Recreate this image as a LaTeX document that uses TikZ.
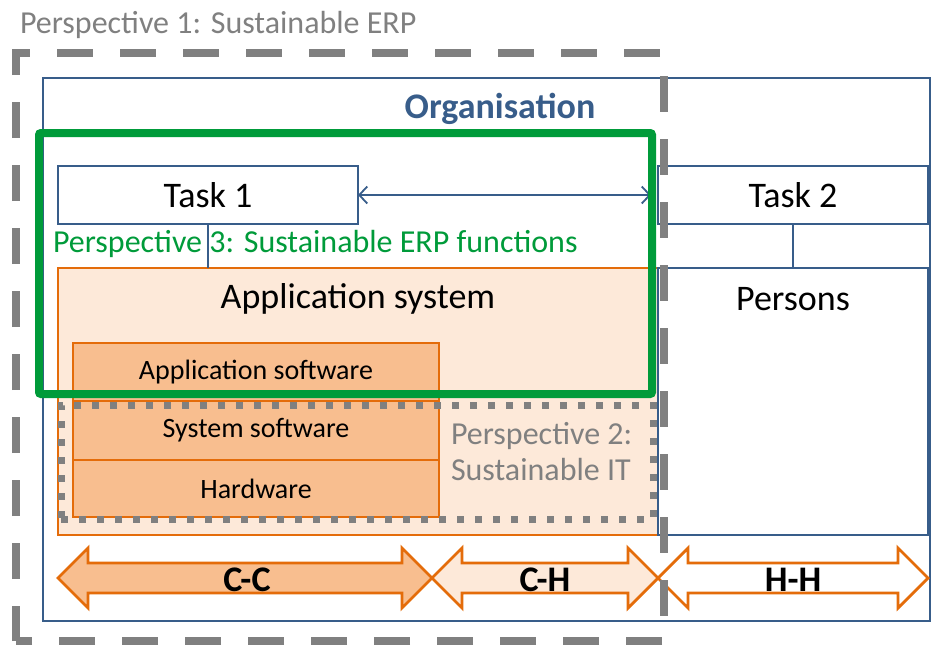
\documentclass[tikz,border=0pt]{standalone}
\usepackage{fontspec}
\setmainfont{Carlito}
\usetikzlibrary{arrows.meta}
\definecolor{orgblue}{RGB}{56,93,138}
\definecolor{erporange}{RGB}{228,108,10}
\definecolor{paleorange}{RGB}{253,233,217}
\definecolor{midorange}{RGB}{248,190,143}
\definecolor{pgray}{RGB}{128,128,128}
\definecolor{pgreen}{RGB}{0,155,58}
\newcommand{\fsz}[1]{\fontsize{#1}{#1}\selectfont}
\begin{document}
\begin{tikzpicture}[x=1pt,y=-1pt,
  box/.style={draw=orgblue,line width=2.8pt,fill=white,inner sep=0pt,outer sep=0pt},
  layer/.style={draw=erporange,line width=2.8pt,fill=midorange,inner sep=0pt,outer sep=0pt,font=\fsz{28}},
  txt/.style={inner sep=0pt,outer sep=0pt},
  link/.style={draw=orgblue,line width=1.8pt},
  blockarrow/.style={draw=erporange,line width=2.8pt,line join=miter},
  flowlabel/.style={inner sep=0pt,outer sep=0pt,font=\fsz{36}\bfseries},
]
\useasboundingbox (0,0) rectangle (931,646);

% organisation frame
\node[box, minimum width=887pt, minimum height=543pt] (org) at (486.5,349.5) {};
\node[txt, anchor=base, text=orgblue, font=\fsz{36}\bfseries] (orgtitle) at (500,118) {Organisation};

% tasks
\node[box, minimum width=300pt, minimum height=58pt, font=\fsz{36}] (t1) at (208,195) {Task 1};
\node[box, minimum width=270pt, minimum height=58pt, font=\fsz{36}] (t2) at (793,195) {Task 2};

% application system and persons
\node[draw=erporange, line width=2.8pt, fill=paleorange, inner sep=0pt, outer sep=0pt,
      minimum width=600pt, minimum height=267pt] (appsys) at (358,401.5) {};
\node[txt, font=\fsz{36}] (appsyslabel) at (358,299) {Application system};
\node[box, minimum width=270pt, minimum height=267pt] (persons) at (793,401.5) {};
\node[txt, font=\fsz{36}] (personslabel) at (793,299) {Persons};

\draw[link] (t1.south) -- (t1.south |- appsys.north);
\draw[link] (t2.south) -- (t2.south |- persons.north);
\draw[link, {Straight Barb[length=8pt,width=17pt]}-{Straight Barb[length=8pt,width=17pt]}]
  (t1.east) -- ([xshift=-7pt]t2.west);

% software / hardware layers
\node[layer, minimum width=366pt, minimum height=58pt] (appsw) at (256,372) {Application software};
\node[layer, minimum width=366pt, minimum height=59pt] (syssw) at (256,430.5) {System software};
\node[layer, minimum width=366pt, minimum height=57pt] (hw) at (256,488.5) {Hardware};

% perspective 2: sustainable IT
\node[draw=pgray, line width=7pt, dash pattern=on 7pt off 11pt, inner sep=0pt, outer sep=0pt,
      minimum width=592pt, minimum height=114pt] (itscope) at (357,462) {};
\node[txt, anchor=west, align=left, text=pgray, font=\fontsize{32}{36}\selectfont] (p2) at (451,452)
  {Perspective 2:\\Sustainable IT};

% perspective 3: sustainable ERP functions
\node[draw=pgreen, line width=8pt, rounded corners=2pt, inner sep=0pt, outer sep=0pt,
      minimum width=613pt, minimum height=261pt] (erpfn) at (345.5,263.5) {};
\node[txt, anchor=base west, text=pgreen, font=\fsz{32}] (p3) at (53,252) {Perspective 3: Sustainable ERP functions};

% interaction arrows
\draw[blockarrow, fill=midorange] (58,578) -- (88,548) -- (88,563) -- (402,563) -- (402,548) -- (432,578)
  -- (402,608) -- (402,593) -- (88,593) -- (88,608) -- cycle;
\draw[blockarrow, fill=paleorange] (432,578) -- (462,548) -- (462,563) -- (628,563) -- (628,548) -- (658,578)
  -- (628,608) -- (628,593) -- (462,593) -- (462,608) -- cycle;
\draw[blockarrow, fill=white] (658,578) -- (688,548) -- (688,563) -- (898,563) -- (898,548) -- (928,578)
  -- (898,608) -- (898,593) -- (688,593) -- (688,608) -- cycle;
\node[flowlabel] (cc) at (247,580) {C-C};
\node[flowlabel] (ch) at (545,580) {C-H};
\node[flowlabel] (hh) at (793,580) {H-H};

% perspective 1: sustainable ERP
\draw[pgray, line width=8pt, dash pattern=on 36pt off 27pt, dash phase=1pt]
  (16,641) -- (16,53) -- (664,53) -- (664,641) -- cycle;
\node[txt, anchor=base west, text=pgray, font=\fsz{32}] (p1) at (20,33) {Perspective 1: Sustainable ERP};
\end{tikzpicture}
\end{document}
